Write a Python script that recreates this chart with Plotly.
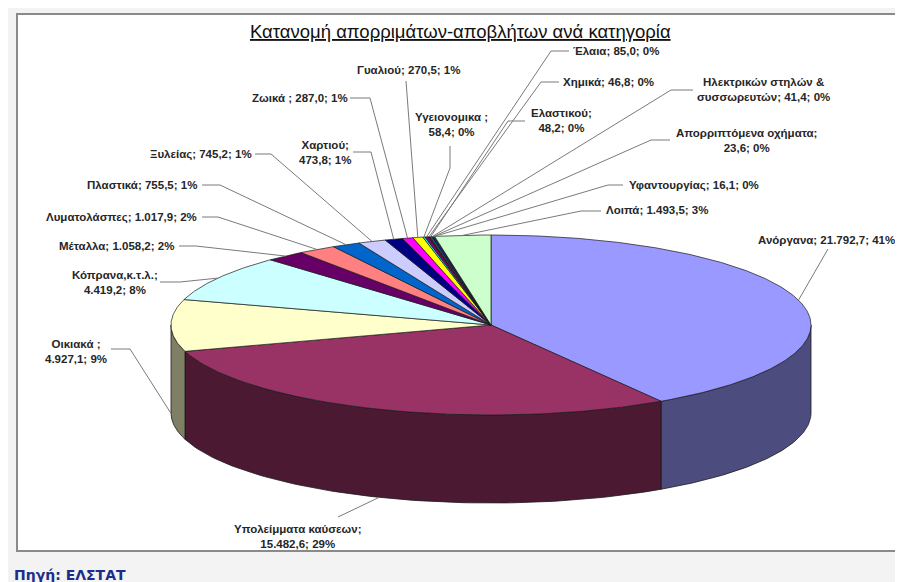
import plotly.graph_objects as go
import numpy as np

# data (tonnes, thousands) - ELSTAT
categories = ["Ανόργανα", "Υπολείμματα καύσεων", "Οικιακά ", "Κόπρανα,κ.τ.λ.",
              "Μέταλλα", "Λυματολάσπες", "Πλαστικά", "Ξυλείας", "Χαρτιού",
              "Ζωικά ", "Γυαλιού", "Υγειονομικα ", "Έλαια", "Χημικά",
              "Ελαστικού", "Ηλεκτρικών στηλών & συσσωρευτών",
              "Απορριπτόμενα οχήματα", "Υφαντουργίας", "Λοιπά"]
values = [21792.7, 15482.6, 4927.1, 4419.2, 1058.2, 1017.9, 755.5, 745.2, 473.8,
          287.0, 270.5, 58.4, 85.0, 46.8, 48.2, 41.4, 23.6, 16.1, 1493.5]
colors = ["#9999FF", "#993366", "#FFFFCC", "#CCFFFF", "#660066", "#FF8080",
          "#0066CC", "#CCCCFF", "#000080", "#FF00FF", "#FFFF00", "#00FFFF",
          "#800080", "#800000", "#008080", "#0000FF", "#00CCFF", "#CCFFFF",
          "#CCFFCC"]

title = "Κατανομή απορριμάτων-αποβλήτων ανά κατηγορία"
source = "Πηγή: ΕΛΣΤΑΤ"

# pie geometry (pixel-like axes)
CX, CY, RX, RY, DEPTH = 483, 317, 320, 90, 88

# label placement: text x, text y, line break mode, leader start, elbow
# break: 0 none, 1 after name, 2 inside name
label_pos = [
    (818, 232, 0, (820, 241), None),
    (290, 528, 1, (330, 509), None),
    (68, 343, 1, (103, 341), (122, 341)),
    (107, 274, 1, (152, 274), (172, 274)),
    (108, 238, 0, (171, 238), (188, 238)),
    (113, 209, 0, (194, 209), (210, 209)),
    (134, 177, 0, (194, 177), (212, 177)),
    (193, 146, 0, (247, 146), (263, 146)),
    (317, 144, 1, (345, 144), (363, 144)),
    (292, 90, 0, (342, 90), (362, 90)),
    (400, 62, 0, (398, 73), None),
    (443, 116, 1, (442, 138), (442, 160)),
    (608, 43, 0, (561, 43), (543, 43)),
    (600, 74, 0, (551, 74), (533, 74)),
    (553, 112, 1, (517, 113), (500, 113)),
    (755, 81, 2, (685, 82), (663, 82)),
    (738, 132, 1, (662, 132), (643, 132)),
    (686, 177, 0, (615, 177), (600, 177)),
    (649, 202, 0, (593, 203), (573, 203)),
]


def ell(t, dy=0):
    r = np.radians(t)
    return CX + RX * np.cos(r), CY - RY * np.sin(r) + dy


def darker(hexcol, f=0.5):
    h = hexcol.lstrip("#")
    rgb = [int(int(h[i:i + 2], 16) * f) for i in (0, 2, 4)]
    return "rgb({},{},{})".format(*rgb)


def fmt(v):
    s = "{:,.1f}".format(v)
    return s.replace(",", "X").replace(".", ",").replace("X", ".")


total = sum(values)
frac = np.cumsum([0] + values) / total
t_start = 90 - 360 * frac[:-1]
t_end = 90 - 360 * frac[1:]

fig = go.Figure()

# side walls (front half only)
for i in range(len(values)):
    lo = max(t_end[i], -180)
    hi = min(t_start[i], 0)
    if lo >= hi:
        continue
    ts = np.linspace(hi, lo, 80)
    xt, yt = ell(ts)
    xb, yb = ell(ts[::-1], DEPTH)
    fig.add_trace(go.Scatter(
        x=np.concatenate([xt, xb, xt[:1]]), y=np.concatenate([yt, yb, yt[:1]]),
        mode="lines", fill="toself", fillcolor=darker(colors[i]),
        line=dict(color="#1a1a1a", width=0.8), hoverinfo="skip"))

# top faces
for i in range(len(values)):
    n = max(4, int(abs(t_start[i] - t_end[i]) * 2))
    ts = np.linspace(t_start[i], t_end[i], n)
    xs, ys = ell(ts)
    fig.add_trace(go.Scatter(
        x=np.concatenate([[CX], xs, [CX]]), y=np.concatenate([[CY], ys, [CY]]),
        mode="lines", fill="toself", fillcolor=colors[i],
        line=dict(color="#1a1a1a", width=0.7), hoverinfo="skip"))

# leader lines and labels
annotations = []
for i, (name, v) in enumerate(zip(categories, values)):
    tx, ty, brk, start, elbow = label_pos[i]
    tm = (t_start[i] + t_end[i]) / 2
    ex, ey = ell(tm)
    if np.sin(np.radians(tm)) < 0:
        ey += DEPTH
    px = [start[0]] + ([elbow[0]] if elbow else []) + [ex]
    py = [start[1]] + ([elbow[1]] if elbow else []) + [ey]
    fig.add_trace(go.Scatter(x=px, y=py, mode="lines",
                             line=dict(color="#7a7a7a", width=1),
                             hoverinfo="skip"))
    pct = "{:.0f}%".format(v / total * 100)
    if brk == 1:
        text = "{};<br>{}; {}".format(name, fmt(v), pct)
    elif brk == 2:
        text = "{}; {}; {}".format(name.replace(" συσσωρευτών", "<br>συσσωρευτών"), fmt(v), pct)
    else:
        text = "{}; {}; {}".format(name, fmt(v), pct)
    annotations.append(dict(x=tx, y=ty, xref="x", yref="y", text="<b>" + text.replace("<br>", "</b><br><b>") + "</b>",
                            showarrow=False, xanchor="center", yanchor="middle",
                            align="center",
                            font=dict(family="Liberation Sans, Arial", size=11.5,
                                      color="#262626")))

annotations.append(dict(x=452, y=23, xref="x", yref="y", text="<u>" + title + "</u>",
                        showarrow=False, xanchor="center", yanchor="middle",
                        font=dict(family="Liberation Sans, Arial", size=18.5,
                                  color="#111111")))
annotations.append(dict(x=5, y=567, xref="x", yref="y", text="<b>" + source + "</b>",
                        showarrow=False, xanchor="left", yanchor="middle",
                        borderpad=0,
                        font=dict(family="DejaVu Sans", size=14, color="#1c2e8a")))

fig.update_layout(
    width=903, height=582,
    margin=dict(l=0, r=0, t=0, b=0),
    paper_bgcolor="#f3f3f3", plot_bgcolor="#f3f3f3",
    showlegend=False,
    xaxis=dict(range=[0, 903], visible=False, fixedrange=True),
    yaxis=dict(range=[582, 0], visible=False, fixedrange=True),
    shapes=[dict(type="rect", xref="x", yref="y", x0=9, y0=6, x1=894, y1=543,
                 line=dict(color="#8a8a8a", width=2), fillcolor="white",
                 layer="below")],
    annotations=annotations,
)

fig.write_html("out.html")
